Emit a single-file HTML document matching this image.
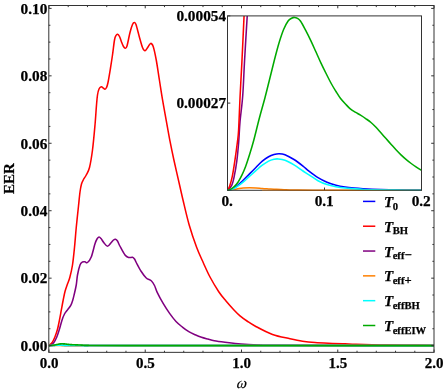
<!DOCTYPE html>
<html><head><meta charset="utf-8"><title>EER plot</title>
<style>
html,body{margin:0;padding:0;background:#fff;}
body{width:444px;height:392px;position:relative;overflow:hidden;font-family:"Liberation Serif",serif;}
</style></head><body>
<svg width="444" height="392" viewBox="0 0 444 392" style="position:absolute;left:0;top:0">
<defs><clipPath id="cm"><rect x="48.80" y="5.50" width="385.80" height="346.85"/></clipPath>
<filter id="tb" x="-5%" y="-5%" width="110%" height="110%" color-interpolation-filters="sRGB"><feGaussianBlur stdDeviation="0.35"/></filter>
<linearGradient id="og" gradientUnits="userSpaceOnUse" x1="262" y1="0" x2="421.5" y2="0"><stop offset="0" stop-color="#ff8000" stop-opacity="0.42"/><stop offset="0.5" stop-color="#ff8000" stop-opacity="0.42"/><stop offset="0.85" stop-color="#ff8000" stop-opacity="0.12"/><stop offset="1" stop-color="#ff8000" stop-opacity="0.05"/></linearGradient>
<clipPath id="ci"><rect x="227.50" y="15.90" width="194.00" height="175.20"/></clipPath></defs>
<rect width="444" height="392" fill="#fff"/>
<g clip-path="url(#cm)" fill="none" stroke-width="1.55" stroke-linejoin="round" stroke-linecap="butt">
<path d="M48.95,345.60C49.09,345.60 49.48,345.60 49.78,345.59C50.09,345.58 50.42,345.57 50.80,345.56C51.17,345.54 51.63,345.52 52.05,345.50C52.47,345.47 52.89,345.45 53.32,345.43C53.74,345.41 54.16,345.38 54.59,345.36C55.01,345.34 55.44,345.31 55.86,345.30C56.28,345.28 56.72,345.26 57.11,345.25C57.50,345.24 57.84,345.23 58.18,345.23C58.52,345.22 58.81,345.22 59.17,345.22C59.54,345.22 59.87,345.22 60.36,345.23C60.86,345.24 61.56,345.26 62.15,345.28C62.75,345.30 63.44,345.33 63.94,345.35C64.43,345.37 64.63,345.38 65.13,345.40C65.62,345.42 66.32,345.45 66.91,345.47C67.51,345.49 68.11,345.50 68.70,345.52C69.30,345.53 69.89,345.54 70.49,345.55C71.08,345.55 71.68,345.56 72.27,345.57C72.87,345.57 73.47,345.57 74.06,345.58C74.66,345.58 75.25,345.58 75.85,345.58C76.44,345.59 76.58,345.59 77.63,345.59C78.69,345.59 80.56,345.59 82.20,345.59C83.84,345.60 80.16,345.60 87.46,345.60C94.76,345.60 68.21,345.58 125.97,345.58C183.73,345.58 382.66,345.60 434.00,345.60" stroke="#0000ff"/>
<path d="M48.95,345.60C49.09,345.48 49.22,345.48 49.80,344.90C50.38,344.32 51.55,343.42 52.40,342.10C53.25,340.78 54.05,339.13 54.90,337.00C55.75,334.87 56.75,332.07 57.50,329.30C58.25,326.53 58.77,323.58 59.40,320.40C60.03,317.22 60.67,313.60 61.30,310.20C61.93,306.80 62.58,303.12 63.20,300.00C63.82,296.88 64.32,294.08 65.00,291.50C65.68,288.92 66.50,286.83 67.30,284.50C68.10,282.17 68.93,280.75 69.80,277.50C70.67,274.25 71.72,270.00 72.50,265.00C73.28,260.00 73.88,253.75 74.50,247.50C75.12,241.25 75.58,234.42 76.25,227.50C76.92,220.58 77.88,211.92 78.50,206.00C79.12,200.08 79.50,195.67 80.00,192.00C80.50,188.33 80.92,186.08 81.50,184.00C82.08,181.92 82.71,181.00 83.50,179.50C84.29,178.00 85.25,177.00 86.25,175.00C87.25,173.00 88.46,171.67 89.50,167.50C90.54,163.33 91.58,157.08 92.50,150.00C93.42,142.92 94.33,132.50 95.00,125.00C95.67,117.50 96.08,110.00 96.50,105.00C96.92,100.00 97.08,97.67 97.50,95.00C97.92,92.33 98.38,90.38 99.00,89.00C99.62,87.62 100.58,86.95 101.25,86.75C101.92,86.55 102.38,87.38 103.00,87.80C103.62,88.22 104.42,89.30 105.00,89.25C105.58,89.20 106.00,88.62 106.50,87.50C107.00,86.38 107.33,85.75 108.00,82.50C108.67,79.25 109.75,72.58 110.50,68.00C111.25,63.42 111.83,59.67 112.50,55.00C113.17,50.33 113.92,43.25 114.50,40.00C115.08,36.75 115.50,36.46 116.00,35.50C116.50,34.54 116.92,34.08 117.50,34.25C118.08,34.42 118.88,35.33 119.50,36.50C120.12,37.67 120.58,39.58 121.25,41.25C121.92,42.92 122.83,45.33 123.50,46.50C124.17,47.67 124.67,48.33 125.25,48.25C125.83,48.17 126.21,48.62 127.00,46.00C127.79,43.38 129.08,36.08 130.00,32.50C130.92,28.92 131.79,26.17 132.50,24.50C133.21,22.83 133.67,22.50 134.25,22.50C134.83,22.50 135.12,22.00 136.00,24.50C136.88,27.00 138.42,33.67 139.50,37.50C140.58,41.33 141.58,45.29 142.50,47.50C143.42,49.71 144.08,50.83 145.00,50.75C145.92,50.67 147.07,48.23 148.00,47.00C148.93,45.77 149.73,43.48 150.60,43.40C151.47,43.32 152.26,43.73 153.20,46.50C154.14,49.27 155.22,54.42 156.25,60.00C157.28,65.58 158.33,73.27 159.40,80.00C160.47,86.73 161.50,93.60 162.65,100.40C163.80,107.20 165.08,114.00 166.30,120.80C167.53,127.60 168.73,134.67 170.00,141.20C171.27,147.73 172.27,152.53 173.90,160.00C175.53,167.47 178.28,179.33 179.80,186.00C181.32,192.67 181.43,193.50 183.00,200.00C184.57,206.50 186.92,217.08 189.20,225.00C191.48,232.92 194.33,241.17 196.70,247.50C199.07,253.83 201.18,258.08 203.40,263.00C205.62,267.92 207.44,272.22 210.00,277.00C212.56,281.78 216.08,287.70 218.75,291.70C221.42,295.70 223.43,297.92 226.00,301.00C228.57,304.08 231.87,307.73 234.20,310.20C236.53,312.67 237.87,314.00 240.00,315.80C242.13,317.60 244.50,319.30 247.00,321.00C249.50,322.70 250.75,323.75 255.00,326.00C259.25,328.25 266.67,332.38 272.50,334.50C278.33,336.62 285.00,337.62 290.00,338.75C295.00,339.88 298.33,340.61 302.50,341.25C306.67,341.89 310.00,342.24 315.00,342.60C320.00,342.96 327.50,343.19 332.50,343.40C337.50,343.61 341.08,343.70 345.00,343.85C348.92,344.00 350.17,344.12 356.00,344.30C361.83,344.48 371.83,344.73 380.00,344.90C388.17,345.07 396.00,345.20 405.00,345.30C414.00,345.40 429.17,345.47 434.00,345.50" stroke="#ff0000"/>
<path d="M48.95,345.60C49.21,345.55 49.71,345.78 50.50,345.30C51.29,344.82 52.65,344.08 53.70,342.70C54.75,341.32 55.85,339.23 56.80,337.00C57.75,334.77 58.55,332.07 59.40,329.30C60.25,326.53 61.05,322.95 61.90,320.40C62.75,317.85 63.53,315.80 64.50,314.00C65.47,312.20 66.63,311.08 67.70,309.60C68.77,308.12 70.05,306.70 70.90,305.10C71.75,303.50 72.25,301.77 72.80,300.00C73.35,298.23 73.62,297.00 74.20,294.50C74.78,292.00 75.70,288.25 76.25,285.00C76.80,281.75 76.88,278.33 77.50,275.00C78.12,271.67 79.17,267.17 80.00,265.00C80.83,262.83 81.67,262.53 82.50,262.00C83.33,261.47 84.17,261.72 85.00,261.80C85.83,261.88 86.46,263.30 87.50,262.50C88.54,261.70 90.00,260.12 91.25,257.00C92.50,253.88 94.04,246.75 95.00,243.75C95.96,240.75 96.33,240.12 97.00,239.00C97.67,237.88 98.33,237.08 99.00,237.00C99.67,236.92 100.21,237.58 101.00,238.50C101.79,239.42 102.67,241.21 103.75,242.50C104.83,243.79 106.25,246.25 107.50,246.25C108.75,246.25 110.25,243.54 111.25,242.50C112.25,241.46 112.79,240.54 113.50,240.00C114.21,239.46 114.83,239.08 115.50,239.25C116.17,239.42 116.75,239.83 117.50,241.00C118.25,242.17 118.75,243.92 120.00,246.25C121.25,248.58 123.54,253.12 125.00,255.00C126.46,256.88 127.50,257.12 128.75,257.50C130.00,257.88 131.54,257.05 132.50,257.30C133.46,257.55 133.88,258.13 134.50,259.00C135.12,259.87 135.12,260.42 136.25,262.50C137.38,264.58 139.58,268.92 141.25,271.50C142.92,274.08 144.58,276.46 146.25,278.00C147.92,279.54 149.88,279.50 151.25,280.75C152.62,282.00 153.51,283.56 154.50,285.50C155.49,287.44 155.73,289.37 157.20,292.40C158.67,295.43 161.23,300.20 163.30,303.70C165.37,307.20 167.48,310.43 169.60,313.40C171.72,316.37 173.87,319.22 176.00,321.50C178.13,323.78 180.27,325.40 182.40,327.10C184.53,328.80 186.67,330.42 188.80,331.70C190.93,332.98 193.08,333.87 195.20,334.80C197.32,335.73 199.38,336.58 201.50,337.30C203.62,338.02 205.77,338.53 207.90,339.10C210.03,339.67 211.45,340.18 214.30,340.70C217.15,341.22 220.55,341.65 225.00,342.20C229.45,342.75 235.50,343.55 241.00,344.00C246.50,344.45 251.50,344.68 258.00,344.90C264.50,345.12 250.67,345.20 280.00,345.30C309.33,345.40 408.33,345.47 434.00,345.50" stroke="#800080"/>
<path d="M48.95,345.60C49.09,345.60 49.48,345.60 49.78,345.59C50.09,345.59 50.42,345.59 50.80,345.59C51.17,345.58 51.63,345.58 52.05,345.57C52.47,345.57 52.89,345.57 53.32,345.57C53.74,345.57 54.16,345.57 54.59,345.57C55.01,345.58 55.44,345.58 55.86,345.58C56.28,345.58 56.72,345.58 57.11,345.59C57.50,345.59 57.67,345.59 58.18,345.59C58.69,345.59 59.50,345.59 60.17,345.59C60.83,345.60 60.96,345.60 62.15,345.60C63.34,345.60 63.09,345.60 67.31,345.60C71.53,345.60 77.68,345.60 87.46,345.60C97.24,345.60 68.21,345.58 125.97,345.58C183.73,345.58 382.66,345.60 434.00,345.60" stroke="#ff8000"/>
<path d="M48.95,345.60C49.09,345.60 49.48,345.60 49.78,345.59C50.09,345.58 50.42,345.58 50.80,345.56C51.17,345.55 51.63,345.53 52.05,345.52C52.47,345.50 52.89,345.47 53.32,345.45C53.74,345.43 54.16,345.41 54.59,345.40C55.01,345.38 55.44,345.35 55.86,345.34C56.28,345.32 56.72,345.31 57.11,345.30C57.50,345.28 57.87,345.28 58.18,345.28C58.49,345.27 58.61,345.27 58.97,345.27C59.34,345.27 59.83,345.28 60.36,345.29C60.89,345.30 61.56,345.32 62.15,345.33C62.75,345.35 63.44,345.38 63.94,345.40C64.43,345.42 64.63,345.42 65.13,345.44C65.62,345.46 66.32,345.48 66.91,345.50C67.51,345.52 68.11,345.53 68.70,345.54C69.30,345.55 69.89,345.56 70.49,345.56C71.08,345.57 71.68,345.57 72.27,345.58C72.87,345.58 73.47,345.58 74.06,345.58C74.66,345.59 75.25,345.59 75.85,345.59C76.44,345.59 76.58,345.59 77.63,345.59C78.69,345.59 80.56,345.60 82.20,345.60C83.84,345.60 80.16,345.60 87.46,345.60C94.76,345.60 68.21,345.58 125.97,345.58C183.73,345.58 382.66,345.60 434.00,345.60" stroke="#00ffff"/>
<path d="M48.95,345.60C49.05,345.60 49.30,345.60 49.53,345.59C49.75,345.58 50.03,345.57 50.28,345.56C50.53,345.55 50.78,345.54 51.03,345.52C51.29,345.50 51.55,345.47 51.81,345.44C52.06,345.41 52.31,345.38 52.56,345.35C52.81,345.31 53.05,345.27 53.32,345.23C53.58,345.18 53.82,345.14 54.15,345.08C54.48,345.02 54.91,344.92 55.28,344.85C55.65,344.77 56.03,344.71 56.37,344.64C56.72,344.57 57.03,344.50 57.35,344.43C57.66,344.37 57.96,344.30 58.26,344.24C58.56,344.18 58.87,344.12 59.17,344.06C59.48,344.01 59.79,343.96 60.09,343.92C60.39,343.88 60.71,343.85 60.98,343.83C61.24,343.81 61.46,343.81 61.67,343.80C61.89,343.80 62.05,343.79 62.25,343.79C62.45,343.80 62.64,343.80 62.85,343.81C63.05,343.81 63.19,343.81 63.46,343.83C63.73,343.86 64.14,343.90 64.47,343.93C64.81,343.96 65.15,344.00 65.49,344.04C65.82,344.07 66.16,344.11 66.50,344.15C66.84,344.19 67.17,344.23 67.51,344.27C67.85,344.31 68.18,344.34 68.52,344.38C68.87,344.42 69.27,344.46 69.59,344.49C69.92,344.52 70.19,344.54 70.49,344.57C70.78,344.59 71.05,344.62 71.36,344.64C71.68,344.66 72.05,344.68 72.37,344.70C72.70,344.72 72.99,344.74 73.33,344.75C73.66,344.76 74.06,344.78 74.40,344.79C74.74,344.80 75.01,344.80 75.35,344.82C75.69,344.83 76.10,344.84 76.44,344.85C76.79,344.87 77.10,344.88 77.44,344.89C77.77,344.91 78.10,344.92 78.43,344.94C78.76,344.96 79.07,344.98 79.40,345.00C79.73,345.02 80.08,345.04 80.41,345.06C80.75,345.08 81.07,345.10 81.41,345.12C81.74,345.14 82.07,345.16 82.40,345.18C82.73,345.20 83.06,345.21 83.39,345.23C83.72,345.25 84.05,345.26 84.38,345.28C84.72,345.29 85.08,345.31 85.42,345.32C85.75,345.33 86.03,345.34 86.37,345.36C86.71,345.37 80.86,345.35 87.46,345.39C94.06,345.43 68.21,345.55 125.97,345.58C183.73,345.61 382.66,345.60 434.00,345.60" stroke="#00aa00" stroke-width="1.62"/>
</g>
<g stroke="#333" stroke-width="1" fill="none">
<rect x="48.80" y="5.50" width="385.20" height="346.85"/>
<path d="M48.95,352.35v-2.80M48.95,5.50v2.80M68.21,352.35v-1.60M68.21,5.50v1.60M87.46,352.35v-1.60M87.46,5.50v1.60M106.72,352.35v-1.60M106.72,5.50v1.60M125.97,352.35v-1.60M125.97,5.50v1.60M145.23,352.35v-2.80M145.23,5.50v2.80M164.48,352.35v-1.60M164.48,5.50v1.60M183.74,352.35v-1.60M183.74,5.50v1.60M202.99,352.35v-1.60M202.99,5.50v1.60M222.25,352.35v-1.60M222.25,5.50v1.60M241.50,352.35v-2.80M241.50,5.50v2.80M260.76,352.35v-1.60M260.76,5.50v1.60M280.01,352.35v-1.60M280.01,5.50v1.60M299.27,352.35v-1.60M299.27,5.50v1.60M318.52,352.35v-1.60M318.52,5.50v1.60M337.78,352.35v-2.80M337.78,5.50v2.80M357.03,352.35v-1.60M357.03,5.50v1.60M376.29,352.35v-1.60M376.29,5.50v1.60M395.54,352.35v-1.60M395.54,5.50v1.60M414.80,352.35v-1.60M414.80,5.50v1.60M434.05,352.35v-2.80M434.05,5.50v2.80M48.80,345.60h2.80M434.00,345.60h-2.80M48.80,328.74h1.60M434.00,328.74h-1.60M48.80,311.88h1.60M434.00,311.88h-1.60M48.80,295.02h1.60M434.00,295.02h-1.60M48.80,278.16h2.80M434.00,278.16h-2.80M48.80,261.30h1.60M434.00,261.30h-1.60M48.80,244.44h1.60M434.00,244.44h-1.60M48.80,227.58h1.60M434.00,227.58h-1.60M48.80,210.72h2.80M434.00,210.72h-2.80M48.80,193.86h1.60M434.00,193.86h-1.60M48.80,177.00h1.60M434.00,177.00h-1.60M48.80,160.14h1.60M434.00,160.14h-1.60M48.80,143.28h2.80M434.00,143.28h-2.80M48.80,126.42h1.60M434.00,126.42h-1.60M48.80,109.56h1.60M434.00,109.56h-1.60M48.80,92.70h1.60M434.00,92.70h-1.60M48.80,75.84h2.80M434.00,75.84h-2.80M48.80,58.98h1.60M434.00,58.98h-1.60M48.80,42.12h1.60M434.00,42.12h-1.60M48.80,25.26h1.60M434.00,25.26h-1.60M48.80,8.40h2.80M434.00,8.40h-2.80"/>
</g>
<rect x="227.50" y="15.90" width="194.00" height="174.40" fill="#fff"/>
<g clip-path="url(#ci)" fill="none" stroke-width="1.55" stroke-linejoin="round">
<path d="M227.50,190.30C228.20,190.12 230.15,189.92 231.70,189.20C233.25,188.48 234.90,187.48 236.80,186.00C238.70,184.52 240.98,182.32 243.10,180.30C245.22,178.28 247.37,176.03 249.50,173.90C251.63,171.77 253.77,169.63 255.90,167.50C258.03,165.37 260.18,162.90 262.30,161.10C264.42,159.30 266.65,157.80 268.60,156.70C270.55,155.60 272.27,155.00 274.00,154.50C275.73,154.00 277.17,153.67 279.00,153.70C280.83,153.73 282.50,153.73 285.00,154.70C287.50,155.67 291.00,157.60 294.00,159.50C297.00,161.40 300.50,164.15 303.00,166.10C305.50,168.05 306.50,169.27 309.00,171.20C311.50,173.13 315.00,175.85 318.00,177.70C321.00,179.55 324.00,181.05 327.00,182.30C330.00,183.55 333.00,184.42 336.00,185.20C339.00,185.98 342.00,186.52 345.00,187.00C348.00,187.48 351.00,187.80 354.00,188.10C357.00,188.40 360.00,188.62 363.00,188.80C366.00,188.98 366.67,189.03 372.00,189.20C377.33,189.37 386.75,189.65 395.00,189.80C403.25,189.95 417.08,190.05 421.50,190.10" stroke="#0000ff"/>
<path d="M227.50,190.30C228.20,189.48 230.58,187.72 231.70,185.40C232.82,183.08 233.35,180.45 234.20,176.40C235.05,172.35 236.05,166.83 236.80,161.10C237.55,155.37 238.17,148.52 238.70,142.00C239.23,135.48 239.33,129.67 240.00,122.00C240.67,114.33 241.93,106.33 242.70,96.00C243.47,85.67 243.82,73.83 244.60,60.00C245.38,46.17 246.93,20.83 247.40,13.00" stroke="#800080"/>
<path d="M227.50,190.30C227.87,189.58 228.90,188.32 229.70,186.00C230.50,183.68 231.45,180.55 232.30,176.40C233.15,172.25 233.95,166.83 234.80,161.10C235.65,155.37 236.77,147.18 237.40,142.00C238.03,136.82 238.15,137.67 238.60,130.00C239.05,122.33 239.55,107.33 240.10,96.00C240.65,84.67 241.22,75.83 241.90,62.00C242.58,48.17 243.82,21.17 244.20,13.00" stroke="#ff0000"/>
<path d="M227.50,190.30C228.20,190.18 230.15,189.83 231.70,189.60C233.25,189.37 234.90,189.18 236.80,188.90C238.70,188.62 240.98,188.10 243.10,187.90C245.22,187.70 247.37,187.70 249.50,187.70C251.63,187.70 253.77,187.77 255.90,187.90C258.03,188.03 260.18,188.33 262.30,188.50C264.42,188.67 266.65,188.78 268.60,188.90C270.55,189.02 271.43,189.07 274.00,189.20C276.57,189.33 280.67,189.57 284.00,189.70C287.33,189.83 288.00,189.91 294.00,190.00C300.00,190.09 298.75,190.20 320.00,190.25C341.25,190.30 404.58,190.29 421.50,190.30" stroke="#ff8000"/>
<path d="M227.50,190.30C228.20,190.15 230.15,189.97 231.70,189.40C233.25,188.83 234.90,188.10 236.80,186.90C238.70,185.70 240.98,183.95 243.10,182.20C245.22,180.45 247.37,178.32 249.50,176.40C251.63,174.48 253.77,172.57 255.90,170.70C258.03,168.83 260.18,166.80 262.30,165.20C264.42,163.60 266.65,162.08 268.60,161.10C270.55,160.12 272.43,159.67 274.00,159.30C275.57,158.93 276.17,158.75 278.00,158.90C279.83,159.05 282.33,159.20 285.00,160.20C287.67,161.20 291.00,163.10 294.00,164.90C297.00,166.70 300.50,169.35 303.00,171.00C305.50,172.65 306.50,173.18 309.00,174.80C311.50,176.42 315.00,179.08 318.00,180.70C321.00,182.32 324.00,183.50 327.00,184.50C330.00,185.50 333.00,186.10 336.00,186.70C339.00,187.30 342.00,187.75 345.00,188.10C348.00,188.45 351.00,188.58 354.00,188.80C357.00,189.02 360.00,189.25 363.00,189.40C366.00,189.55 366.67,189.58 372.00,189.70C377.33,189.82 386.75,190.01 395.00,190.10C403.25,190.19 417.08,190.22 421.50,190.25" stroke="#00ffff"/>
<path d="M227.50,190.30C227.98,190.15 229.28,190.02 230.40,189.40C231.52,188.78 232.93,187.80 234.20,186.60C235.47,185.40 236.72,184.10 238.00,182.20C239.28,180.30 240.62,177.87 241.90,175.20C243.18,172.53 244.43,169.60 245.70,166.20C246.97,162.80 248.17,159.08 249.50,154.80C250.83,150.52 252.05,146.63 253.70,140.50C255.35,134.37 257.53,125.08 259.40,118.00C261.27,110.92 263.17,104.58 264.90,98.00C266.63,91.42 268.22,84.83 269.80,78.50C271.38,72.17 272.87,65.92 274.40,60.00C275.93,54.08 277.47,48.08 279.00,43.00C280.53,37.92 282.08,33.17 283.60,29.50C285.12,25.83 286.77,22.88 288.10,21.00C289.43,19.12 290.53,18.80 291.60,18.20C292.67,17.60 293.52,17.37 294.50,17.40C295.48,17.43 296.48,17.77 297.50,18.40C298.52,19.03 299.23,19.20 300.60,21.20C301.97,23.20 304.00,27.17 305.70,30.40C307.40,33.63 309.10,37.03 310.80,40.60C312.50,44.17 314.20,48.05 315.90,51.80C317.60,55.55 319.30,59.48 321.00,63.10C322.70,66.72 324.35,70.02 326.10,73.50C327.85,76.98 329.85,81.00 331.50,84.00C333.15,87.00 334.52,89.13 336.00,91.50C337.48,93.87 338.82,96.12 340.40,98.20C341.98,100.28 343.85,102.22 345.50,104.00C347.15,105.78 348.60,107.50 350.30,108.90C352.00,110.30 354.00,111.35 355.70,112.40C357.40,113.45 358.78,114.13 360.50,115.20C362.22,116.27 364.25,117.58 366.00,118.80C367.75,120.02 369.33,121.08 371.00,122.50C372.67,123.92 374.35,125.58 376.00,127.30C377.65,129.02 379.23,130.92 380.90,132.80C382.57,134.68 384.32,136.70 386.00,138.60C387.68,140.50 389.33,142.33 391.00,144.20C392.67,146.07 394.33,148.02 396.00,149.80C397.67,151.58 399.33,153.30 401.00,154.90C402.67,156.50 404.30,157.97 406.00,159.40C407.70,160.83 409.53,162.25 411.20,163.50C412.87,164.75 414.28,165.75 416.00,166.90C417.72,168.05 420.58,169.82 421.50,170.40" stroke="#00aa00"/>
</g>
<g stroke="#333" stroke-width="1" fill="none">
<rect x="227.50" y="15.90" width="194.00" height="174.40"/>
<path d="M227.50,190.30v-2.8M324.50,190.30v-2.8M421.50,190.30v-2.8M227.50,103.10h2.8M227.50,15.90h2.8"/>
</g>
<path d="M262,190.30H421.50" stroke="url(#og)" stroke-width="1.0" fill="none"/>
<g font-family="'Liberation Serif', serif" font-weight="bold" font-size="15.3px" fill="#000" filter="url(#tb)" stroke="#000" stroke-width="0.25">
<text x="47.3" y="350.90" text-anchor="end">0.00</text>
<text x="47.3" y="283.46" text-anchor="end">0.02</text>
<text x="47.3" y="216.02" text-anchor="end">0.04</text>
<text x="47.3" y="148.58" text-anchor="end">0.06</text>
<text x="47.3" y="81.14" text-anchor="end">0.08</text>
<text x="47.3" y="13.70" text-anchor="end">0.10</text>
<text x="49.00" y="368.1" text-anchor="middle" font-size="15px">0.0</text>
<text x="145.28" y="368.1" text-anchor="middle" font-size="15px">0.5</text>
<text x="241.55" y="368.1" text-anchor="middle" font-size="15px">1.0</text>
<text x="337.83" y="368.1" text-anchor="middle" font-size="15px">1.5</text>
<text x="434.10" y="368.1" text-anchor="middle" font-size="15px">2.0</text>
<text x="226.1" y="108.10" text-anchor="end">0.00027</text>
<text x="226.1" y="20.90" text-anchor="end">0.00054</text>
<text x="227.20" y="205.9" text-anchor="middle">0.</text>
<text x="324.20" y="205.9" text-anchor="middle">0.1</text>
<text x="421.20" y="205.9" text-anchor="middle">0.2</text>
<text transform="translate(13.9,178.6) rotate(-90)" text-anchor="middle" font-size="15px">EER</text>
<text transform="translate(240.9,387.6) skewX(-16)" text-anchor="middle" font-weight="normal" font-style="normal" stroke-width="0.15" font-size="15.5px">ω</text>
<path d="M363,201.40H375.3" stroke="#0000ff" stroke-width="1.5" fill="none"/>
<text x="384.0" y="207.00"><tspan font-style="italic" font-size="15px">T</tspan><tspan font-size="10.6px" dy="2.5" dx="-0.5">0</tspan></text>
<path d="M363,226.22H375.3" stroke="#ff0000" stroke-width="1.5" fill="none"/>
<text x="384.0" y="231.82"><tspan font-style="italic" font-size="15px">T</tspan><tspan font-size="10.6px" dy="2.5" dx="-0.5">BH</tspan></text>
<path d="M363,251.04H375.3" stroke="#800080" stroke-width="1.5" fill="none"/>
<text x="384.0" y="256.64"><tspan font-style="italic" font-size="15px">T</tspan><tspan font-size="10.6px" dy="2.5" dx="-0.5">eff</tspan><tspan font-size="12.6px">−</tspan></text>
<path d="M363,275.86H375.3" stroke="#ff8000" stroke-width="1.5" fill="none"/>
<text x="384.0" y="281.46"><tspan font-style="italic" font-size="15px">T</tspan><tspan font-size="10.6px" dy="2.5" dx="-0.5">eff</tspan><tspan font-size="12.6px">+</tspan></text>
<path d="M363,300.68H375.3" stroke="#00ffff" stroke-width="1.5" fill="none"/>
<text x="384.0" y="306.28"><tspan font-style="italic" font-size="15px">T</tspan><tspan font-size="10.6px" dy="2.5" dx="-0.5">effBH</tspan></text>
<path d="M363,325.50H375.3" stroke="#00aa00" stroke-width="1.5" fill="none"/>
<text x="384.0" y="331.10"><tspan font-style="italic" font-size="15px">T</tspan><tspan font-size="10.6px" dy="2.5" dx="-0.5">effEIW</tspan></text>
</g>
</svg>
</body></html>
